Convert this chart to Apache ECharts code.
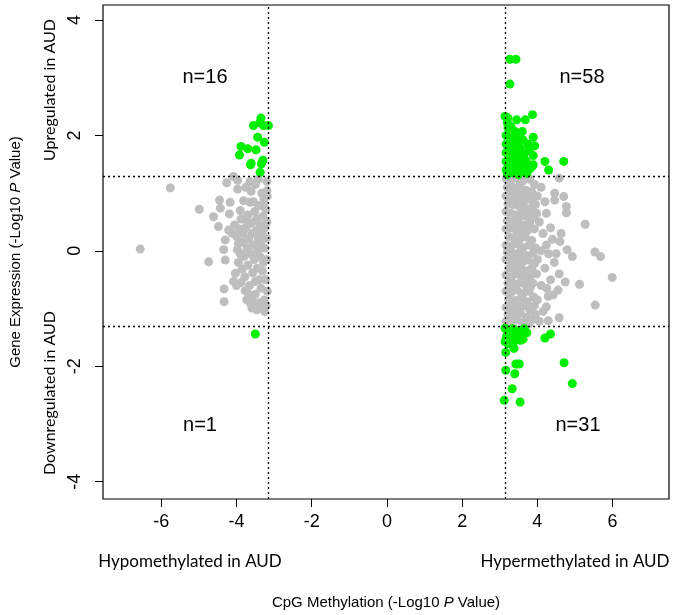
<!DOCTYPE html>
<html>
<head>
<meta charset="utf-8">
<script src="https://cdn.jsdelivr.net/npm/echarts@6/dist/echarts.min.js"></script>
<style>
  html, body { margin: 0; padding: 0; background: #fff; }
  #main { width: 675px; height: 615px; }
</style>
</head>
<body>
<div id="main"></div>
<script>
// tick labels
var xTicks = [-6, -4, -2, 0, 2, 4, 6];
var yTicks = [-4, -2, 0, 2, 4];

// significance cut-offs (-log10 P)
var methCut = 3.15;
var exprCut = 1.3;

// [methylation, expression] pairs
var grayLeft = [
    [-6.56,0.03],[-5.76,1.09],[-4.99,0.72],[-4.74,-0.19],[-4.61,0.59],[-4.45,0.88],[-4.43,0.74],[-4.48,0.42],
    [-4.33,-0.66],[-4.33,-0.88],[-4.34,0.02],[-4.30,0.19],[-4.30,-0.16],[-4.26,1.18],[-4.21,0.36],[-4.19,0.64],
    [-4.17,0.84],[-4.12,0.31],[-4.08,1.29],[-4.08,-0.53],[-4.03,-0.39],[-3.97,1.22],[-3.97,1.07],[-3.95,0.13],
    [-3.81,0.87],[-3.77,0.54],[-3.77,-0.69],[-3.73,-0.85],[-3.64,1.20],[-3.64,0.84],[-3.61,1.03],[-3.59,-0.99],
    [-3.50,-0.53],[-3.46,-1.02],[-3.42,1.24],[-3.28,0.83],[-3.19,1.20],[-3.19,1.04],
    [-4.05,0.45],[-4.0,0.25],[-3.98,0.02],[-3.95,-0.2],[-3.92,0.38],[-3.9,-0.05],[-3.88,0.55],[-3.85,0.15],
    [-3.85,-0.32],[-3.82,0.3],[-3.8,-0.1],[-3.78,-0.45],[-3.75,0.4],[-3.72,0.05],[-3.7,-0.25],[-3.7,0.62],
    [-3.68,0.2],[-3.65,-0.6],[-3.62,-0.05],[-3.6,0.48],[-3.58,0.3],[-3.57,-0.38],[-3.55,0.1],[-3.53,-0.15],
    [-3.52,0.68],[-3.5,-0.75],[-3.48,0.35],[-3.47,0.55],[-3.45,-0.3],[-3.44,0.0],[-3.42,0.2],[-3.4,-0.5],
    [-3.4,0.78],[-3.38,-0.1],[-3.37,0.45],[-3.35,-0.65],[-3.34,0.1],[-3.32,0.3],[-3.31,-0.35],[-3.3,0.6],
    [-3.28,-0.2],[-3.27,0.9],[-3.26,-0.85],[-3.25,0.05],[-3.24,0.4],[-3.23,-0.5],[-3.22,0.72],[-3.21,-0.95],
    [-3.2,0.22],[-3.2,-0.15],[-3.19,0.5],[-3.18,-0.7],[-3.18,0.95],[-3.6,-0.85],[-3.55,0.85],[-3.9,0.7],
    [-4.0,-0.6],[-3.75,1.1],[-3.5,1.15],[-3.33,1.0],[-3.62,-0.92],[-3.4,-0.9],[-3.3,-1.0],[-3.25,-1.05],
    [-3.88,-0.55],[-3.68,-0.75]
];

var grayRight = [
    [4.58,1.26],[4.46,1.00],[4.70,0.94],[4.46,0.88],[4.77,0.77],[4.77,0.66],[5.27,0.46],[4.24,0.65],
    [3.98,0.65],[4.63,0.30],[4.60,0.16],[4.24,0.10],[4.79,0.02],[4.93,-0.10],[5.53,-0.02],[5.68,-0.10],
    [5.99,-0.46],[5.12,-0.58],[4.74,-0.54],[4.58,-0.40],[4.55,-0.68],[5.54,-0.94],[4.58,-1.16],[4.29,-1.21],
    [4.05,-1.22],[4.24,-0.97],[4.42,-0.76],[4.29,-0.79],
    [4.1,1.1],[4.0,0.95],[4.2,0.85],[4.35,0.4],[4.15,0.3],[4.4,0.2],[4.3,-0.05],[4.45,-0.2],
    [4.2,-0.3],[4.35,-0.5],[4.1,-0.6],[4.0,-0.85],[4.15,-1.05],[3.95,-1.1],[4.05,0.5],[4.0,-0.15],
    [4.1,0.0],[3.95,0.8],[4.25,-0.65],[4.5,-0.05],
    [3.17,1.25],[3.3,1.22],[3.45,1.26],[3.6,1.2],[3.8,1.24],[3.92,1.15],
    [3.2,1.1],[3.38,1.08],[3.52,1.12],[3.7,1.05],[3.85,1.02],
    [3.17,0.95],[3.28,0.98],[3.45,0.92],[3.62,0.96],[3.78,0.9],[3.88,0.85],
    [3.22,0.82],[3.35,0.8],[3.5,0.78],[3.68,0.75],[3.82,0.72],
    [3.17,0.68],[3.3,0.65],[3.42,0.62],[3.58,0.66],[3.72,0.6],[3.9,0.58],
    [3.2,0.52],[3.36,0.5],[3.5,0.48],[3.65,0.45],[3.8,0.5],
    [3.17,0.38],[3.28,0.4],[3.44,0.35],[3.6,0.32],[3.75,0.36],[3.92,0.38],
    [3.24,0.25],[3.38,0.22],[3.52,0.2],[3.68,0.24],[3.85,0.18],
    [3.17,0.1],[3.3,0.08],[3.46,0.12],[3.62,0.06],[3.78,0.1],[3.95,0.05],
    [3.2,-0.02],[3.36,-0.05],[3.52,-0.03],[3.7,-0.08],[3.88,-0.04],
    [3.17,-0.15],[3.3,-0.18],[3.45,-0.14],[3.6,-0.2],[3.76,-0.16],[3.92,-0.22],
    [3.24,-0.3],[3.4,-0.32],[3.55,-0.28],[3.7,-0.35],[3.85,-0.3],
    [3.17,-0.42],[3.32,-0.45],[3.48,-0.4],[3.64,-0.46],[3.8,-0.44],[3.98,-0.4],
    [3.22,-0.56],[3.38,-0.58],[3.54,-0.55],[3.7,-0.6],[3.88,-0.56],
    [3.17,-0.7],[3.3,-0.72],[3.46,-0.68],[3.62,-0.74],[3.78,-0.7],
    [3.24,-0.84],[3.4,-0.86],[3.56,-0.82],[3.72,-0.88],[3.9,-0.8],
    [3.17,-0.98],[3.32,-0.96],[3.48,-1.0],[3.64,-0.95],[3.8,-1.02],
    [3.22,-1.1],[3.38,-1.12],[3.55,-1.08],[3.72,-1.15],[3.88,-1.18],
    [3.17,-1.22],[3.3,-1.25],[3.46,-1.2],[3.62,-1.24],[3.78,-1.26],
    [3.25,0.88],[3.55,0.6],[3.4,0.15],[3.58,-0.1],[3.35,-0.62],[3.5,-0.9],[3.65,0.88],[3.28,1.15],
    [3.48,1.0],[3.68,-0.5],[3.26,0.45],[3.45,-0.22],[3.62,0.38],[3.82,-0.62],[3.92,-0.95],[3.35,-1.05],
    [3.55,1.18]
];

// up-regulated & hypomethylated (n=16)
var greenUpLeft = [
    [-3.35,2.30],[-3.55,2.17],[-3.28,2.17],[-3.15,2.17],[-3.44,1.97],[-3.26,1.88],[-3.88,1.81],[-3.70,1.77],
    [-3.48,1.75],[-3.92,1.66],[-3.61,1.52],[-3.63,1.49],[-3.30,1.57],[-3.34,1.51],[-3.37,1.36],[-3.38,2.22]
];

// down-regulated & hypomethylated (n=1)
var greenDownLeft = [[-3.50,-1.44]];

// up-regulated & hypermethylated (n=58)
var greenUpRight = [
    [3.27,3.32],[3.43,3.32],[3.27,2.89],[3.14,2.33],[3.22,2.30],[3.45,2.27],[3.68,2.27],[3.87,2.36],
    [3.22,2.13],[3.40,2.07],[3.60,2.07],[3.46,1.98],[3.89,1.97],[3.93,1.82],[3.78,1.74],[3.89,1.65],
    [4.20,1.55],[4.70,1.55],[4.30,1.40],[3.89,1.49],[3.68,1.46],[3.87,1.47],
    [3.17,2.0],[3.17,1.85],[3.17,1.7],[3.17,1.55],[3.17,1.4],[3.2,1.32],[3.25,1.92],[3.28,1.78],
    [3.3,1.62],[3.3,1.48],[3.35,1.35],[3.38,2.0],[3.4,1.85],[3.42,1.7],[3.44,1.55],[3.45,1.42],
    [3.5,1.32],[3.52,1.9],[3.55,1.78],[3.56,1.62],[3.58,1.5],[3.6,1.38],[3.65,1.68],[3.7,1.56],
    [3.72,1.34],[3.8,1.42],[3.24,1.68],[3.22,1.5],[3.36,1.58],[3.48,1.62],[3.33,1.72],[3.62,1.92],
    [3.75,1.85],[3.2,2.22],[3.3,2.15],[3.52,1.45]
];

// down-regulated & hypermethylated (n=31)
var greenDownRight = [
    [3.14,-1.34],[3.27,-1.37],[3.45,-1.40],[3.62,-1.46],[3.62,-1.53],[3.45,-1.51],[3.22,-1.46],[3.14,-1.57],
    [3.22,-1.61],[3.38,-1.69],[3.16,-1.76],[4.20,-1.51],[4.35,-1.44],[4.71,-1.94],[3.43,-1.96],[3.52,-1.96],
    [3.16,-2.07],[3.40,-2.13],[4.93,-2.30],[3.33,-2.39],[3.12,-2.59],[3.54,-2.62],
    [3.2,-1.38],[3.35,-1.35],[3.52,-1.38],[3.65,-1.35],[3.3,-1.48],[3.55,-1.55],[3.18,-1.48],[3.4,-1.56],
    [3.72,-1.42]
];

var gray = '#bebebe';
var green = '#00f000';
var sans = '"Liberation Sans", Arial, sans-serif';
var calib = 'Lato, "Open Sans", sans-serif';

var myChart = echarts.init(document.getElementById('main'));

option = {
    animation: false,
    backgroundColor: '#fff',
    grid: {
        left: 103, right: 6, top: 5, bottom: 116,
        show: true, borderColor: '#000', borderWidth: 1.2
    },
    xAxis: {
        type: 'value',
        min: -7.55, max: 7.5,
        splitLine: { show: false },
        axisLine: { show: false, onZero: false },
        axisTick: { show: true, inside: false, length: 8, customValues: xTicks, lineStyle: { color: '#000' } },
        axisLabel: { customValues: xTicks, margin: 14, color: '#000', fontSize: 18, fontFamily: sans },
        name: 'CpG Methylation (-Log10 {i|P} Value)',
        nameLocation: 'middle',
        nameGap: 96,
        nameTextStyle: {
            color: '#000', fontSize: 15, fontFamily: sans,
            rich: { i: { fontStyle: 'italic', fontSize: 15, fontFamily: sans, color: '#000' } }
        }
    },
    yAxis: {
        type: 'value',
        min: -4.3, max: 4.26,
        splitLine: { show: false },
        axisLine: { show: false, onZero: false },
        axisTick: { show: true, inside: false, length: 8, customValues: yTicks, lineStyle: { color: '#000' } },
        axisLabel: { customValues: yTicks, rotate: 90, margin: 19, color: '#000', fontSize: 18, fontFamily: sans },
        name: 'Gene Expression (-Log10 {i|P} Value)',
        nameLocation: 'middle',
        nameRotate: 90,
        nameGap: 80,
        nameTextStyle: {
            color: '#000', fontSize: 15, fontFamily: sans,
            rich: { i: { fontStyle: 'italic', fontSize: 15, fontFamily: sans, color: '#000' } }
        }
    },
    graphic: [
        { type: 'text', x: 190, y: 562, style: { text: 'Hypomethylated in AUD', font: '17px ' + calib, fill: '#000', align: 'center', verticalAlign: 'middle' } },
        { type: 'text', x: 575, y: 562, style: { text: 'Hypermethylated in AUD', font: '17px ' + calib, fill: '#000', align: 'center', verticalAlign: 'middle' } },
        { type: 'text', x: 50, y: 90, rotation: Math.PI / 2, style: { text: 'Upregulated in AUD', font: '16px ' + calib, fill: '#000', align: 'center', verticalAlign: 'middle' } },
        { type: 'text', x: 50, y: 393, rotation: Math.PI / 2, style: { text: 'Downregulated in AUD', font: '16px ' + calib, fill: '#000', align: 'center', verticalAlign: 'middle' } },
        { type: 'text', x: 205, y: 77, style: { text: 'n=16', font: '20px ' + sans, fill: '#000', align: 'center', verticalAlign: 'middle' } },
        { type: 'text', x: 582, y: 77, style: { text: 'n=58', font: '20px ' + sans, fill: '#000', align: 'center', verticalAlign: 'middle' } },
        { type: 'text', x: 200, y: 425, style: { text: 'n=1', font: '20px ' + sans, fill: '#000', align: 'center', verticalAlign: 'middle' } },
        { type: 'text', x: 578, y: 425, style: { text: 'n=31', font: '20px ' + sans, fill: '#000', align: 'center', verticalAlign: 'middle' } }
    ],
    series: [
        {
            name: 'not significant',
            type: 'scatter',
            symbolSize: 9,
            itemStyle: { color: gray, opacity: 1 },
            data: grayLeft.concat(grayRight),
            markLine: {
                silent: true,
                symbol: 'none',
                label: { show: false },
                lineStyle: { color: '#000', type: [2, 3], width: 1.3 },
                data: [
                    { xAxis: -methCut }, { xAxis: methCut },
                    { yAxis: -exprCut }, { yAxis: exprCut }
                ]
            }
        },
        {
            name: 'significant',
            type: 'scatter',
            symbolSize: 9,
            itemStyle: { color: green, opacity: 1 },
            data: greenUpLeft.concat(greenDownLeft, greenUpRight, greenDownRight)
        }
    ]
};

myChart.setOption(option);
</script>
</body>
</html>
